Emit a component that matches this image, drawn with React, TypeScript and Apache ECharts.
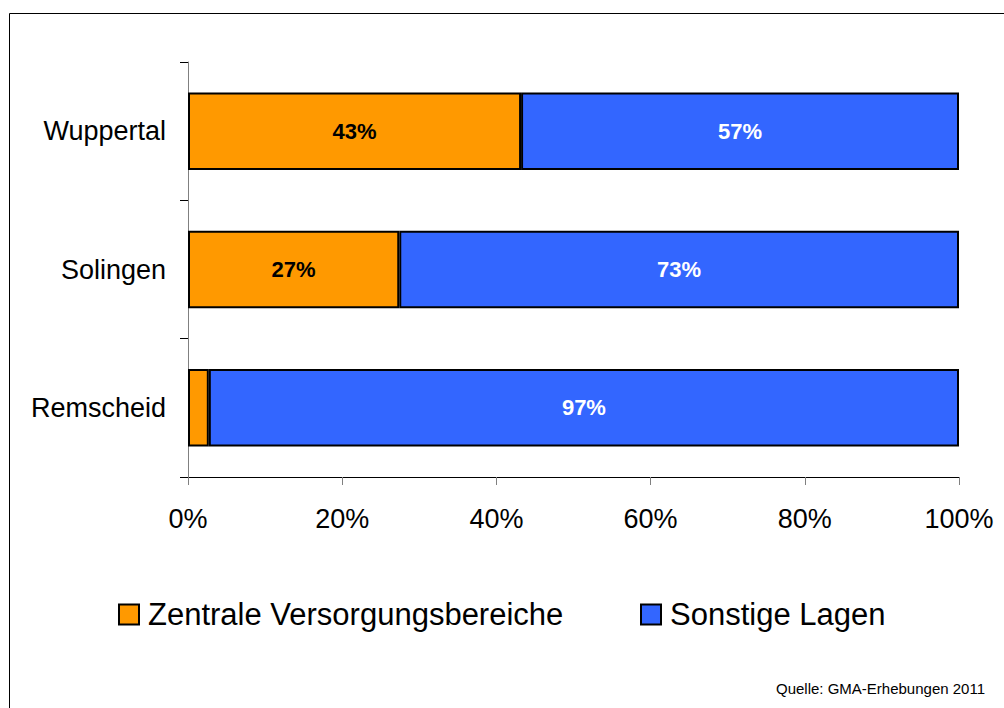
import React, { useEffect, useRef } from "react";
import * as echarts from "echarts";

const categories = ["Wuppertal", "Solingen", "Remscheid"];
const zentrale = [43.2, 27.4, 2.7];
const sonstige = [56.8, 72.6, 97.3];
const seriesNames = ["Zentrale Versorgungsbereiche", "Sonstige Lagen"];
const xTicks = { min: 0, max: 100, interval: 20 };
const sourceText = "Quelle: GMA-Erhebungen 2011";

const FONT = "Liberation Sans, Arial, sans-serif";

export default function App() {
  const ref = useRef<HTMLDivElement>(null);
  useEffect(() => {
    if (!ref.current) return;
    const chart = echarts.init(ref.current, null, { renderer: "svg" });
    const labelFmt = (p: any) => (p.value < 5 ? "" : Math.round(p.value) + "%");
    chart.setOption({
      animation: false,
      backgroundColor: "#ffffff",
      textStyle: { fontFamily: FONT },
      grid: { left: 188, right: 45, top: 62, bottom: 231, containLabel: false },
      xAxis: {
        type: "value",
        min: xTicks.min,
        max: xTicks.max,
        interval: xTicks.interval,
        axisLine: { show: true, lineStyle: { color: "#000", width: 1 } },
        axisTick: { show: true, length: 8, lineStyle: { color: "#808080" } },
        splitLine: { show: false },
        axisLabel: {
          formatter: "{value}%",
          color: "#000",
          fontSize: 27,
          fontFamily: FONT,
          margin: 28,
        },
      },
      yAxis: {
        type: "category",
        data: categories,
        inverse: true,
        axisLine: { show: true, lineStyle: { color: "#808080", width: 1 } },
        axisTick: { show: true, length: 8, alignWithLabel: false, lineStyle: { color: "#000" } },
        axisLabel: { color: "#000", fontSize: 27, fontFamily: FONT, margin: 22 },
      },
      legend: [
        {
          data: [seriesNames[0]],
          left: 118,
          top: 599,
          icon: "rect",
          itemWidth: 20,
          itemHeight: 20,
          itemGap: 10,
          textStyle: { fontSize: 31, color: "#000", fontFamily: FONT, padding: [0, 0, 0, 4] },
          padding: 0,
        },
        {
          data: [seriesNames[1]],
          left: 640,
          top: 599,
          icon: "rect",
          itemWidth: 20,
          itemHeight: 20,
          textStyle: { fontSize: 31, color: "#000", fontFamily: FONT, padding: [0, 0, 0, 4] },
          padding: 0,
        },
      ],
      series: [
        {
          name: seriesNames[0],
          type: "bar",
          stack: "total",
          data: zentrale,
          barWidth: "56%",
          itemStyle: { color: "#FF9900", borderColor: "#000", borderWidth: 2 },
          label: {
            show: true,
            position: "inside",
            formatter: labelFmt,
            color: "#000",
            fontWeight: "bold",
            fontSize: 22,
            fontFamily: FONT,
          },
        },
        {
          name: seriesNames[1],
          type: "bar",
          stack: "total",
          data: sonstige,
          barWidth: "56%",
          itemStyle: { color: "#3366FF", borderColor: "#000", borderWidth: 2 },
          label: {
            show: true,
            position: "inside",
            formatter: labelFmt,
            color: "#fff",
            fontWeight: "bold",
            fontSize: 22,
            fontFamily: FONT,
          },
        },
      ],
      graphic: [
        {
          type: "rect",
          shape: { x: 9.5, y: 13.5, width: 1200, height: 900 },
          style: { fill: "none", stroke: "#000", lineWidth: 1 },
          silent: true,
        },
        {
          type: "text",
          x: 985,
          y: 688,
          style: {
            text: sourceText,
            fontSize: 15,
            fontFamily: FONT,
            fill: "#000",
            align: "right",
            verticalAlign: "middle",
          },
        },
      ],
    });
    return () => chart.dispose();
  }, []);
  return (
    <div
      ref={ref}
      style={{ position: "fixed", left: 0, top: 0, width: 1004, height: 708 }}
    />
  );
}
